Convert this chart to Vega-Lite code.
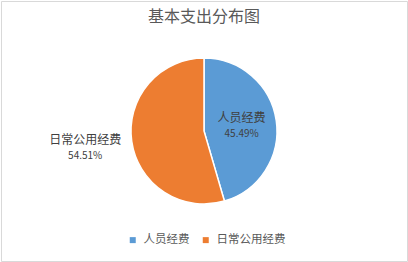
{
  "$schema": "https://vega.github.io/schema/vega-lite/v6.json",
  "width": 408,
  "height": 262,
  "autosize": {"type": "fit", "contains": "padding"},
  "padding": 1,
  "background": "white",
  "config": {
    "view": {"stroke": "#D9D9D9", "strokeWidth": 1},
    "font": "Noto Sans CJK SC"
  },
  "view": {"stroke": "#D9D9D9", "strokeWidth": 1, "fill": "white"},
  "title": {
    "text": "基本支出分布图",
    "fontSize": 16,
    "fontWeight": "normal",
    "color": "#595959",
    "font": "Noto Sans CJK SC",
    "offset": -40,
    "anchor": "middle",
    "baseline": "bottom"
  },
  "data": {
    "values": [
      {"category": "人员经费", "share": 0.4549},
      {"category": "日常公用经费", "share": 0.5451}
    ]
  },
  "encoding": {
    "theta": {"field": "share", "type": "quantitative", "stack": true}
  },
  "layer": [
    {
      "mark": {"type": "arc", "radius": 73, "stroke": "white", "strokeWidth": 1.5},
      "encoding": {
        "color": {
          "field": "category",
          "type": "nominal",
          "scale": {"domain": ["人员经费", "日常公用经费"], "range": ["#5B9BD5", "#ED7D31"]},
          "legend": {
            "title": null,
            "orient": "none",
            "legendX": 126,
            "legendY": 233,
            "direction": "horizontal",
            "symbolType": "square",
            "symbolSize": 36,
            "symbolStrokeWidth": 0,
            "labelFontSize": 11.5,
            "labelColor": "#595959",
            "labelFont": "Noto Sans CJK SC",
            "columnPadding": 10,
            "labelOffset": 5
          }
        }
      }
    },
    {
      "mark": {
        "type": "text",
        "fontSize": 12,
        "color": "#404040",
        "dy": -8,
        "font": "Noto Sans CJK SC",
        "radius": {"expr": "datum.category === '人员经费' ? 38 : 120"}
      },
      "encoding": {
        "text": {"field": "category", "type": "nominal"}
      }
    },
    {
      "mark": {
        "type": "text",
        "fontSize": 10,
        "color": "#404040",
        "dy": 8,
        "font": "Noto Sans CJK SC",
        "radius": {"expr": "datum.category === '人员经费' ? 38 : 120"}
      },
      "encoding": {
        "text": {"field": "share", "type": "quantitative", "format": ".2%"}
      }
    }
  ]
}
